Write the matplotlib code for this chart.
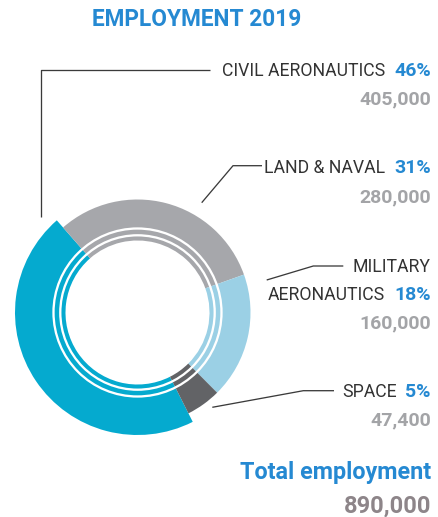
import matplotlib
matplotlib.use("Agg")
import matplotlib.pyplot as plt
from matplotlib.patches import Circle

# ---- data ----
title = "EMPLOYMENT 2019"
categories = ["CIVIL AERONAUTICS", "LAND & NAVAL", "MILITARY\nAERONAUTICS", "SPACE"]
percents = [46, 31, 18, 5]
employment = ["405,000", "280,000", "160,000", "47,400"]
total_label = "Total employment"
total_value = "890,000"

colors = ["#05aacf", "#a6a7ab", "#9bd0e5", "#626366"]
BLUE_TXT = "#2589d2"
GRAY_NUM = "#a3a4a7"
TOTAL_NUM = "#8d8589"
LABEL_C = "#333333"
LINE_C = "#3a3a3a"

W, H = 438, 517
fig = plt.figure(figsize=(W / 100, H / 100), dpi=100)
ax = fig.add_axes([0, 0, 1, 1])

def Y(py):
    return H - py

cx, cy = 137.5, Y(312.5)
r_out, r_in, r_big = 113, 72, 122.5

wedges, _ = ax.pie(percents, colors=colors, startangle=-63.2, counterclock=False,
                   radius=r_out, center=(cx, cy),
                   wedgeprops=dict(width=r_out - r_in, linewidth=0))
wedges[0].set_radius(r_big)
wedges[0].set_width(r_big - r_in)
ax.set_xlim(0, W)
ax.set_ylim(0, H)
ax.set_aspect("equal")
ax.axis("off")

for rr in (84.0, 77.2):
    ax.add_patch(Circle((cx, cy), rr, fill=False, ec="white", lw=2.3 * 72 / 100))

# leader lines (layout)
lw = 1.3 * 72 / 100
leaders = [
    [(41, 217), (41, 70), (210, 70)],
    [(201.7, 202.7), (233, 165.7), (262, 165.7)],
    [(266.7, 280), (313.3, 266), (343.3, 266)],
    [(212.3, 407.3), (303.3, 390.7), (334, 390.7)],
]
for pts in leaders:
    ax.plot([p[0] for p in pts], [Y(p[1]) for p in pts], color=LINE_C, lw=lw,
            solid_capstyle="butt")

FONT = ["Roboto", "DejaVu Sans"]
fs_lab = 12.7
fs_num = 14.0

ax.text(197, Y(25.7), title, ha="center", va="baseline", fontsize=16.3,
        fontweight="bold", color=BLUE_TXT, family=FONT)

XR = 431
label_baselines = [75.7, 172.7, 300.0, 396.7]
num_baselines = [104.0, 202.7, 328.5, 425.0]
line_gap = 27.7

fig.canvas.draw()
renderer = fig.canvas.get_renderer()
inv = ax.transData.inverted()

for cat, pct, num, lb, nb in zip(categories, percents, employment, label_baselines, num_baselines):
    t = ax.text(XR, Y(lb), f"{pct}%", ha="right", va="baseline", fontsize=fs_num,
                fontweight="bold", color=BLUE_TXT, family=FONT)
    bb = t.get_window_extent(renderer)
    x0 = inv.transform((bb.x0, bb.y0))[0]
    lines = cat.split("\n")
    ax.text(x0 - 9, Y(lb), lines[-1], ha="right", va="baseline", fontsize=fs_lab,
            color=LABEL_C, family=FONT)
    for k, extra in enumerate(reversed(lines[:-1])):
        ax.text(XR, Y(lb - line_gap * (k + 1)), extra, ha="right", va="baseline",
                fontsize=fs_lab, color=LABEL_C, family=FONT)
    ax.text(XR, Y(nb), num, ha="right", va="baseline", fontsize=fs_num,
            fontweight="bold", color=GRAY_NUM, family=FONT)

ax.text(XR, Y(479.3), total_label, ha="right", va="baseline", fontsize=16.8,
        fontweight="bold", color=BLUE_TXT, family=FONT)
ax.text(XR, Y(512.7), total_value, ha="right", va="baseline", fontsize=17.0,
        fontweight="bold", color=TOTAL_NUM, family=FONT)

fig.savefig("out.png", dpi=100)
